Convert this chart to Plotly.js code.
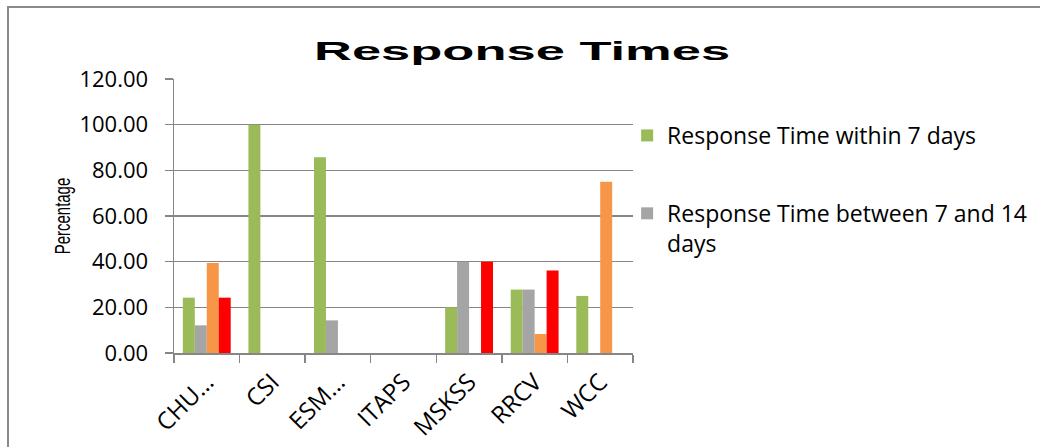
<!DOCTYPE html>
<html>
<head>
<meta charset="utf-8">
<script src="https://cdn.plot.ly/plotly-3.0.1.min.js"></script>
<style>
  html, body { margin: 0; padding: 0; background: #fff; }
  #wrap { position: relative; width: 1040px; height: 447px; overflow: hidden; }
  #chart { position: absolute; left: 0; top: 0; width: 1040px; height: 447px; }
  #frame { position: absolute; left: 7px; top: 6px; width: 1100px; height: 500px;
           border-left: 2px solid #8a8a8a; border-top: 2px solid #8a8a8a; pointer-events: none; }
</style>
</head>
<body>
<div id="wrap">
  <div id="chart"></div>
  <div id="frame"></div>
</div>
<script>
const categories = ["CHU…", "CSI", "ESM…", "ITAPS", "MSKSS", "RRCV", "WCC"];
const within7 = [24.24, 100.00, 85.71, 0, 20.00, 27.78, 25.00];
const between7and14 = [12.12, 0, 14.29, 0, 40.00, 27.78, 0];
const between14and21 = [39.39, 0, 0, 0, 0, 8.33, 75.00];
const over21 = [24.24, 0, 0, 0, 40.00, 36.11, 0];
const seriesNames = ["Response Time within 7 days", "Response Time between 7 and 14<br>days", "Response Time between 14 and 21 days", "Response Time more than 21 days"];
const colors = ["#9BBB59", "#A5A5A5", "#F79646", "#FF0000"];
const yTicks = [0, 20, 40, 60, 80, 100, 120];

const font = "'Open Sans', 'Noto Sans', sans-serif";
const seriesData = [within7, between7and14, between14and21, over21];
const traces = seriesData.map((vals, i) => ({
  type: "bar",
  x: categories,
  y: vals,
  name: seriesNames[i],
  marker: { color: colors[i] },
  showlegend: i < 2,
  legendgroup: "g" + i,
  hoverinfo: "x+y+name"
}));

const layout = {
  width: 1040, height: 447,
  paper_bgcolor: "#ffffff", plot_bgcolor: "#ffffff",
  margin: { l: 174, r: 407, t: 79, b: 94, pad: 0, autoexpand: false },
  barmode: "group", bargap: 0.27, bargroupgap: 0,
  title: {
    text: "<b>Response Times</b>",
    font: { family: "'Liberation Sans', Arial, sans-serif", size: 25, color: "#000" },
    x: 0.502, xanchor: "center", xref: "container", y: 0.885, yanchor: "middle", yref: "container"
  },
  xaxis: {
    type: "category",
    tickangle: -45,
    tickson: "boundaries",
    ticks: "outside", ticklen: 8, tickwidth: 1.5, tickcolor: "#868686",
    showline: true, linecolor: "#868686", linewidth: 1.5,
    showgrid: false,
    ticklabelstandoff: 4,
    tickfont: { family: font, size: 24, color: "#000" }
  },
  yaxis: {
    range: [0, 120],
    tickvals: yTicks,
    tickformat: ".2f",
    ticks: "outside", ticklen: 8, tickwidth: 1.5, tickcolor: "#868686",
    showline: true, linecolor: "#868686", linewidth: 1.5,
    showgrid: true, gridcolor: "#868686", gridwidth: 1.5,
    zeroline: false,
    ticklabelstandoff: 12,
    tickfont: { family: font, size: 22, color: "#000" },
    title: { text: "Percentage", standoff: 2,
      font: { family: "'Liberation Sans', Arial, sans-serif", size: 22, color: "#000" } }
  },
  legend: {
    xref: "container", yref: "container",
    x: 0.603, xanchor: "left", y: 0.745, yanchor: "top",
    traceorder: "grouped", tracegroupgap: 45, valign: "top",
    font: { family: font, size: 23, color: "#000" },
    bgcolor: "rgba(0,0,0,0)"
  },
  showlegend: true
};

Plotly.newPlot("chart", traces, layout, { staticPlot: true, displayModeBar: false }).then(() => {
  const t = document.querySelector("#chart .gtitle");
  if (t) {
    const r = t.getBoundingClientRect();
    const cx = r.left + r.width / 2;
    t.setAttribute("transform", `translate(${cx},0) scale(2.1,1) translate(${-cx},0)`);
  }
  const yt = document.querySelector("#chart .ytitle");
  if (yt) {
    const r = yt.getBoundingClientRect();
    const cy = r.top + r.height / 2;
    const prev = yt.getAttribute("transform") || "";
    yt.setAttribute("transform", `translate(0,${cy}) scale(1,0.68) translate(0,${-cy}) ${prev}`);
  }
});
</script>
</body>
</html>
